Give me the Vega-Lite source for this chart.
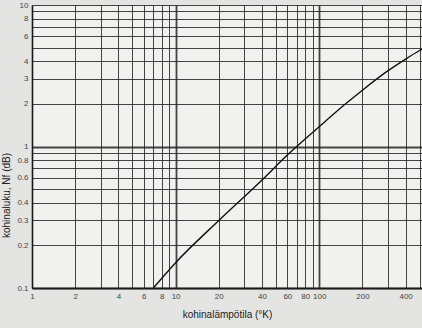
{
  "$schema": "https://vega.github.io/schema/vega-lite/v6.json",
  "autosize": "none",
  "width": 390,
  "height": 283,
  "padding": {"left": 32, "top": 5, "right": 0, "bottom": 40},
  "background": "#e4e4e2",
  "config": {
    "view": {"fill": "#f1f1ef", "stroke": null},
    "font": "Liberation Sans"
  },
  "data": {
    "values": [
      {"T": 7, "Nf": 0.1},
      {"T": 10, "Nf": 0.151},
      {"T": 20, "Nf": 0.3},
      {"T": 40, "Nf": 0.58},
      {"T": 60, "Nf": 0.87},
      {"T": 100, "Nf": 1.38},
      {"T": 150, "Nf": 1.97},
      {"T": 200, "Nf": 2.5},
      {"T": 300, "Nf": 3.42},
      {"T": 400, "Nf": 4.15},
      {"T": 500, "Nf": 4.77},
      {"T": 520, "Nf": 4.88}
    ]
  },
  "mark": {"type": "line", "color": "#111111", "strokeWidth": 1.4, "clip": true, "interpolate": "monotone"},
  "encoding": {
    "x": {
      "field": "T",
      "type": "quantitative",
      "scale": {"type": "log", "domain": [1, 520], "nice": false},
      "axis": {
        "title": "kohinalämpötila (°K)",
        "titleFont": "Liberation Sans",
        "titleFontSize": 10,
        "titleFontWeight": "normal",
        "titleColor": "#222222",
        "titlePadding": 9,
        "values": [1, 2, 3, 4, 5, 6, 7, 8, 9, 10, 20, 30, 40, 50, 60, 70, 80, 90, 100, 200, 300, 400, 500],
        "labelExpr": "indexof([1, 2, 4, 6, 8, 10, 20, 40, 60, 80, 100, 200, 400], datum.value) >= 0 ? format(datum.value, '~g') : ''",
        "labelFontSize": 8,
        "labelColor": "#444444",
        "labelPadding": 4,
        "labelFlush": false,
        "ticks": false,
        "domainColor": "#1a1a1a",
        "domainWidth": 1.6,
        "gridColor": "#262626",
        "gridOpacity": 0.85,
        "gridWidth": {"condition": {"test": "datum.value == 10 || datum.value == 100", "value": 1.8}, "value": 1}
      }
    },
    "y": {
      "field": "Nf",
      "type": "quantitative",
      "scale": {"type": "log", "domain": [0.1, 10], "nice": false},
      "axis": {
        "title": "kohinaluku, Nf (dB)",
        "titleFont": "Liberation Sans",
        "titleFontSize": 10,
        "titleFontWeight": "normal",
        "titleColor": "#222222",
        "titleAnchor": "middle",
        "titleX": -21,
        "titleY": 190,
        "values": [0.1, 0.2, 0.3, 0.4, 0.5, 0.6, 0.7, 0.8, 0.9, 1, 2, 3, 4, 5, 6, 7, 8, 9, 10],
        "labelExpr": "indexof([0.1, 0.2, 0.3, 0.4, 0.6, 0.8, 1, 2, 3, 4, 6, 8, 10], datum.value) >= 0 ? format(datum.value, '~g') : ''",
        "labelFontSize": 8,
        "labelColor": "#444444",
        "labelPadding": 4,
        "labelFlush": false,
        "ticks": false,
        "domainColor": "#1a1a1a",
        "domainWidth": 1.6,
        "gridColor": "#262626",
        "gridOpacity": 0.85,
        "gridWidth": {"condition": {"test": "datum.value == 1 || datum.value == 0.1", "value": 1.8}, "value": 1}
      }
    }
  }
}
